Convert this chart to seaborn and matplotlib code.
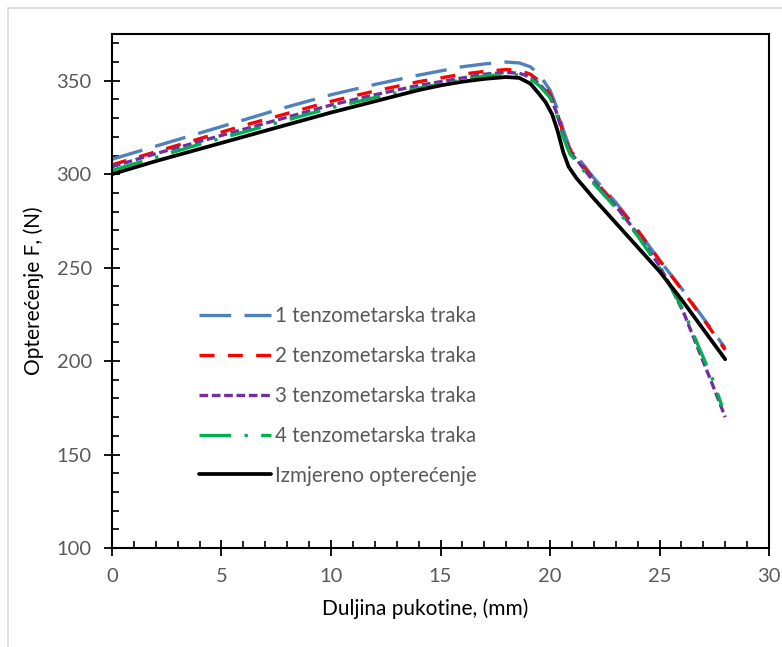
import matplotlib.pyplot as plt
import seaborn as sns
from matplotlib.ticker import MultipleLocator
from matplotlib.lines import Line2D

# Data
x_traka12 = [0, 2, 4, 6, 8, 10, 12, 14, 16, 17, 18, 18.6, 19.1, 19.5, 20, 20.3, 20.6,
             20.9, 21.3, 22, 23, 24, 25, 26, 27, 28]
traka1 = [308, 315, 322, 329, 336, 342.5, 348, 353, 357.5, 359, 360, 359.5, 357.5, 353.5,
          345, 336, 324, 314, 308.5, 298, 285, 270, 254, 239, 223, 207]
traka2 = [305, 312, 319, 326, 332.5, 339, 344.5, 349.5, 353.5, 355, 356, 355.5, 353.5, 350,
          343, 334, 322, 313, 307.5, 297, 284, 270, 254, 238.5, 222.5, 206]

x_traka3 = [0, 2, 4, 6, 8, 10, 12, 14, 16, 17, 18, 18.6, 19.1, 19.5, 20, 20.3, 20.6,
            20.9, 21.3, 22, 23, 24, 25, 25.5, 26.1, 26.85, 27.4, 28]
traka3 = [304, 311, 317.5, 324, 330.5, 337, 342.5, 347.5, 351.5, 353.5, 354.5, 354, 352,
          348.5, 342, 333, 321, 312, 306.5, 296, 283, 268, 251, 240, 226, 204, 188, 170]

x_traka4 = [0, 2, 4, 6, 8, 10, 12, 14, 16, 17, 18, 18.6, 19.1, 19.5, 20, 20.3, 20.6,
            20.9, 21.3, 22, 23, 24, 25, 25.5, 26.1, 26.85, 27.4, 27.85]
traka4 = [302, 309, 316, 322.5, 329, 335.5, 341, 346, 350.5, 352.5, 353.5, 353, 351,
          347.5, 341, 332, 320, 311, 305.5, 295, 282, 267, 250, 240, 227, 206, 191, 176]

x_mjereno = [0, 2, 4, 6, 8, 10, 12, 14, 15, 16, 17, 18, 18.6, 19.1, 19.5, 19.8, 20.1,
             20.35, 20.6, 20.85, 21.2, 21.6, 22, 23, 24, 25, 26, 27, 28]
mjereno = [300, 307, 313.5, 320, 326.5, 333, 339, 345, 347.5, 349.5, 351, 352, 351.5,
           348.5, 343, 338.5, 332, 323, 312, 304, 298, 292.5, 287, 274, 261, 248, 233,
           217, 201]

labels = ['1 tenzometarska traka', '2 tenzometarska traka', '3 tenzometarska traka',
          '4 tenzometarska traka', 'Izmjereno opterećenje']

sns.set_style('white')
plt.rcParams['font.family'] = ['Lato', 'DejaVu Sans']

fig = plt.figure(figsize=(7.82, 6.47), dpi=100)
ax = fig.add_axes([0.1432, 0.153, 0.8402, 0.7944])

lw = 2.4
sns.lineplot(x=x_traka12, y=traka1, ax=ax, color='#4f81bd', lw=lw,
             linestyle=(0, (9.5, 4)), label=labels[0])
sns.lineplot(x=x_traka12, y=traka2, ax=ax, color='#ff0000', lw=lw,
             linestyle=(0, (4.5, 4)), label=labels[1])
sns.lineplot(x=x_traka3, y=traka3, ax=ax, color='#7030a0', lw=lw,
             linestyle=(0, (2.6, 1.1)), label=labels[2])
sns.lineplot(x=x_traka4, y=traka4, ax=ax, color='#00b050', lw=lw,
             linestyle=(0, (9.5, 4, 1, 4)), label=labels[3])
sns.lineplot(x=x_mjereno, y=mjereno, ax=ax, color='black', lw=lw + 0.3,
             linestyle='-', label=labels[4])

ax.set_xlim(0, 30)
ax.set_ylim(100, 375)
ax.xaxis.set_major_locator(MultipleLocator(5))
ax.xaxis.set_minor_locator(MultipleLocator(1))
ax.yaxis.set_major_locator(MultipleLocator(50))
ax.yaxis.set_minor_locator(MultipleLocator(10))
ax.tick_params(which='major', direction='inout', length=11, width=1.3,
               labelsize=14.5, labelcolor='#595959', color='black', pad=9)
ax.tick_params(which='minor', direction='in', length=5, width=1.2, color='black')
ax.tick_params(axis='x', which='both', bottom=True, top=False)
ax.tick_params(axis='y', which='both', left=True, right=False)
for sp in ax.spines.values():
    sp.set_color('black')
    sp.set_linewidth(1.5)
ax.grid(False)

ax.set_xlabel('Duljina pukotine, (mm)', fontsize=15, color='black', labelpad=9)
ax.xaxis.set_label_coords(0.477, -0.098)
ax.set_ylabel('Opterećenje F, (N)', fontsize=15, color='black', labelpad=9)

leg = ax.legend(loc='upper left', bbox_to_anchor=(0.12, 0.487), frameon=False,
                fontsize=14.8, handlelength=3.5, handletextpad=0.2, labelspacing=0.97,
                borderaxespad=0)
for t in leg.get_texts():
    t.set_color('#595959')

# chart-area border
fig.add_artist(Line2D([8 / 782, 1], [1 - 8 / 647, 1 - 8 / 647], color='#d9d9d9', lw=1.2))
fig.add_artist(Line2D([8 / 782, 8 / 782], [0, 1 - 8 / 647], color='#d9d9d9', lw=1.2))

fig.savefig('out.png', dpi=100)
